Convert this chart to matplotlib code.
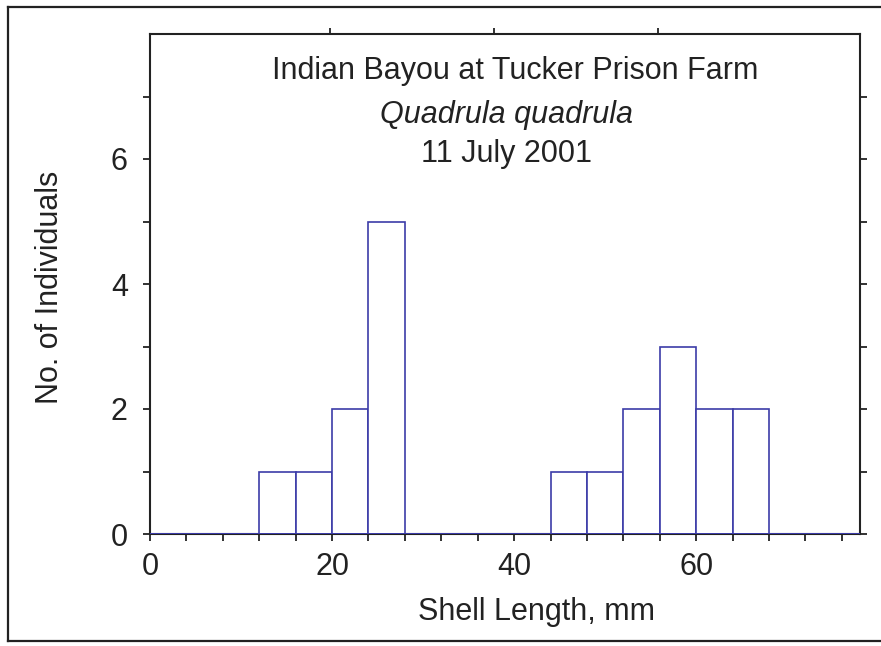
import matplotlib
matplotlib.use("Agg")
import matplotlib.pyplot as plt
from matplotlib.lines import Line2D
import numpy as np

plt.rcParams['font.family'] = ['Liberation Sans', 'DejaVu Sans']

# Data
bin_edges = [0, 4, 8, 12, 16, 20, 24, 28, 32, 36, 40, 44, 48, 52, 56, 60, 64, 68, 72, 76, 80]
counts = [0, 0, 0, 1, 1, 2, 5, 0, 0, 0, 0, 1, 1, 2, 3, 2, 2, 0, 0, 0]
x_major = [0, 20, 40, 60]
x_minor = [0, 4, 8, 12, 16, 20, 24, 28, 32, 36, 40, 44, 48, 52, 56, 60, 64, 68, 72, 76]
top_ticks = [19.8, 37.8, 55.8]
y_major = [0, 2, 4, 6]
y_minor = [0, 1, 2, 3, 4, 5, 6, 7]
title_lines = ["Indian Bayou at Tucker Prison Farm", "Quadrula quadrula", "11 July 2001"]
xlabel = "Shell Length, mm"
ylabel = "No. of Individuals"

W, H = 881, 646
fig = plt.figure(figsize=(W / 100, H / 100), dpi=100)
ax = fig.add_axes([150 / W, 1 - 534 / H, (860 - 150) / W, (534 - 34) / H])

dark = "#222222"
blue = "#3c3ca8"

widths = np.diff(bin_edges)
ax.bar(bin_edges[:-1], counts, width=widths, align='edge', facecolor='white',
       edgecolor=blue, linewidth=1.2, zorder=3)
ax.plot([bin_edges[0], bin_edges[-1]], [0, 0], color=blue, lw=1.4, zorder=4)

ax.set_xlim(0, 78)
ax.set_ylim(0, 8)

for s in ax.spines.values():
    s.set_color(dark)
    s.set_linewidth(1.5)

ax.set_xticks(x_minor)
ax.set_xticklabels([str(v) if v in x_major else "" for v in x_minor])
ax.set_yticks(y_minor)
ax.set_yticklabels([str(v) if v in y_major else "" for v in y_minor])
ax.tick_params(axis='x', direction='out', length=5, width=1.3, color=dark,
               labelsize=22, labelcolor=dark, pad=8)
ax.tick_params(axis='y', direction='out', length=5, width=1.3, color=dark,
               labelsize=22, labelcolor=dark, pad=11, right=True)

# top ticks
secx = ax.secondary_xaxis('top')
secx.set_xticks(top_ticks)
secx.set_xticklabels([])
secx.tick_params(direction='out', length=4, width=1.3, color=dark)
secx.spines['top'].set_visible(False)

# titles
fig.text(515 / W, 1 - 79 / H, title_lines[0], ha='center', va='baseline',
         fontsize=22, color=dark)
fig.text(507 / W, 1 - 123 / H, title_lines[1], ha='center', va='baseline',
         fontsize=22, color=dark, style='italic')
fig.text(506 / W, 1 - 162 / H, title_lines[2], ha='center', va='baseline',
         fontsize=22, color=dark)

fig.text(536 / W, 1 - 620 / H, xlabel, ha='center', va='baseline',
         fontsize=22, color=dark)
fig.text(50 / W, 1 - 287 / H, ylabel, ha='center', va='center', rotation=90,
         fontsize=22, color=dark)

# outer frame
fl, ft, fb = 8 / W, 1 - 7 / H, 1 - 641 / H
fig.add_artist(Line2D([fl, fl], [fb, ft], transform=fig.transFigure, color=dark, lw=1.6))
fig.add_artist(Line2D([fl, 1.0], [ft, ft], transform=fig.transFigure, color=dark, lw=1.6))
fig.add_artist(Line2D([fl, 1.0], [fb, fb], transform=fig.transFigure, color=dark, lw=1.6))

fig.savefig("out.png", dpi=100)
